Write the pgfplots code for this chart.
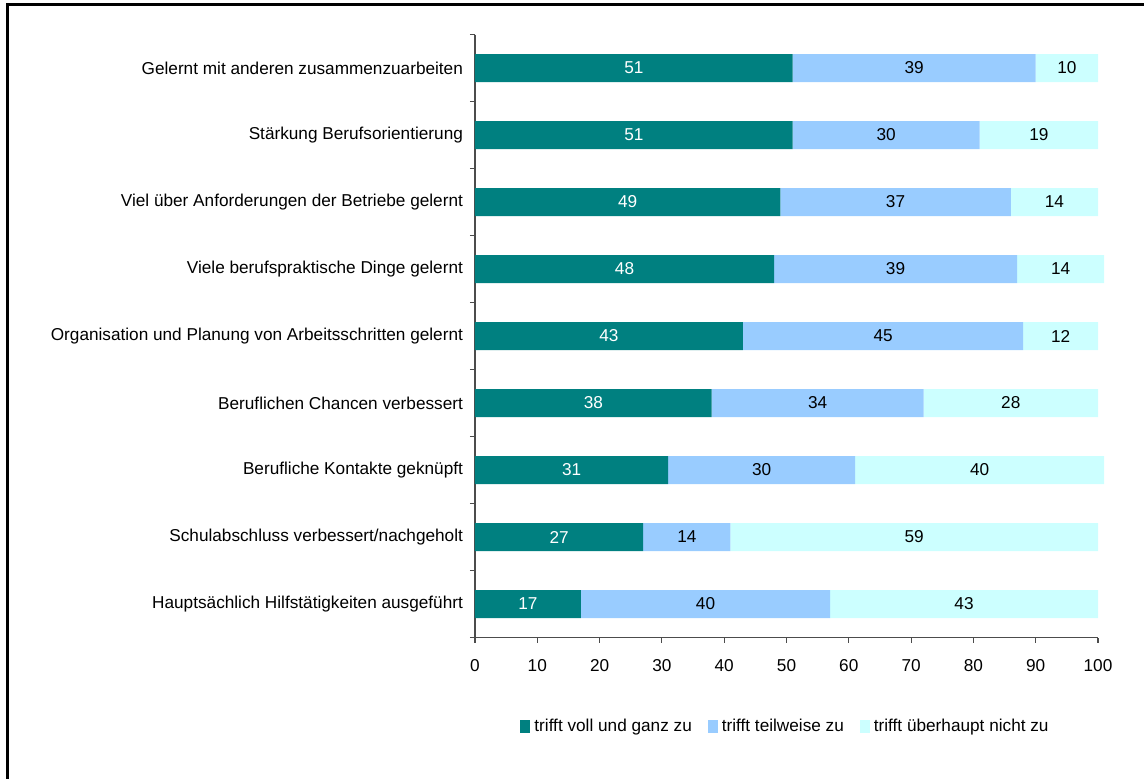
\documentclass[border=0pt]{standalone}
\usepackage{pgfplots}
\pgfplotsset{compat=1.18}
\usepackage{fontspec}
\setmainfont{Liberation Sans}
\definecolor{c1}{HTML}{008080}
\definecolor{c2}{HTML}{99CCFF}
\definecolor{c3}{HTML}{CCFFFF}
\newcommand{\fs}{\fontsize{8.6}{10}\selectfont}
\pgfplotsset{common/.style={scale only axis, width=311.5pt, height=301.5pt,
  xmin=0, xmax=100, ymin=-0.5, ymax=8.5, y dir=reverse, clip=false}}
\begin{document}
\begin{tikzpicture}
\begin{axis}[name=ax, common,
  xbar stacked, bar width=14pt,
  axis lines=left, axis line style={-, draw=gray!60!black, line width=0.6pt},
  xtick={0,10,...,100}, ytick={0,...,8},
  yticklabels={Gelernt mit anderen zusammenzuarbeiten, Stärkung Berufsorientierung, Viel über Anforderungen der Betriebe gelernt, Viele berufspraktische Dinge gelernt, Organisation und Planung von Arbeitsschritten gelernt, Beruflichen Chancen verbessert, Berufliche Kontakte geknüpft, Schulabschluss verbessert/nachgeholt, Hauptsächlich Hilfstätigkeiten ausgeführt},
  minor ytick={-0.5,0.5,...,8.5},
  tick align=outside, major tick length=2.5pt, minor tick length=2.5pt,
  every major y tick/.style={draw=none},
  every minor y tick/.style={draw=gray!60!black, line width=0.6pt},
  every major x tick/.style={draw=gray!60!black, line width=0.6pt},
  tick label style={font=\fs},
  /pgf/number format/assume math mode=true,
  xticklabel style={yshift=-5pt},
  yticklabel style={xshift=0pt},
  legend style={at={(0.5,0)}, anchor=center, yshift=-44.5pt, draw=none, fill=none,
    legend columns=3, font=\fs, /tikz/every even column/.append style={column sep=6pt}},
  legend image code/.code={\fill[#1] (0pt,-3.25pt) rectangle (5pt,3.25pt);},
]
\addplot[fill=c1, draw=none] coordinates {
(51,0) (51,1) (49,2) (48,3) (43,4) (38,5) (31,6) (27,7) (17,8)};
\addplot[fill=c2, draw=none] coordinates {
(39,0) (30,1) (37,2) (39,3) (45,4) (34,5) (30,6) (14,7) (40,8)};
\addplot[fill=c3, draw=none] coordinates {
(10,0) (19,1) (14,2) (14,3) (12,4) (28,5) (40,6) (59,7) (43,8)};
\legend{trifft voll und ganz zu, trifft teilweise zu, trifft überhaupt nicht zu}
\end{axis}
\begin{axis}[common, hide axis,
  nodes near coords, point meta=explicit symbolic,
  every node near coord/.append style={anchor=center, font=\fs}]
\addplot[only marks, mark=none, every node near coord/.append style={text=white}] coordinates {
(25.5,0)[51] (25.5,1)[51] (24.5,2)[49] (24,3)[48] (21.5,4)[43] (19,5)[38] (15.5,6)[31] (13.5,7)[27] (8.5,8)[17]};
\addplot[only marks, mark=none, every node near coord/.append style={text=black}] coordinates {
(70.5,0)[39] (66,1)[30] (67.5,2)[37] (67.5,3)[39] (65.5,4)[45] (55,5)[34] (46,6)[30] (34,7)[14] (37,8)[40]};
\addplot[only marks, mark=none, every node near coord/.append style={text=black}] coordinates {
(95,0)[10] (90.5,1)[19] (93,2)[14] (94,3)[14] (94,4)[12] (86,5)[28] (81,6)[40] (70.5,7)[59] (78.5,8)[43]};
\end{axis}
\begin{scope}[shift={(ax.south west)}]
\useasboundingbox (-237.5pt,-70.25pt) rectangle (334.5pt,318.75pt);
\draw[line width=1.5pt] (-233.5pt,-90pt) -- (-233.5pt,316.25pt) -- (350pt,316.25pt);
\end{scope}
\end{tikzpicture}
\end{document}
